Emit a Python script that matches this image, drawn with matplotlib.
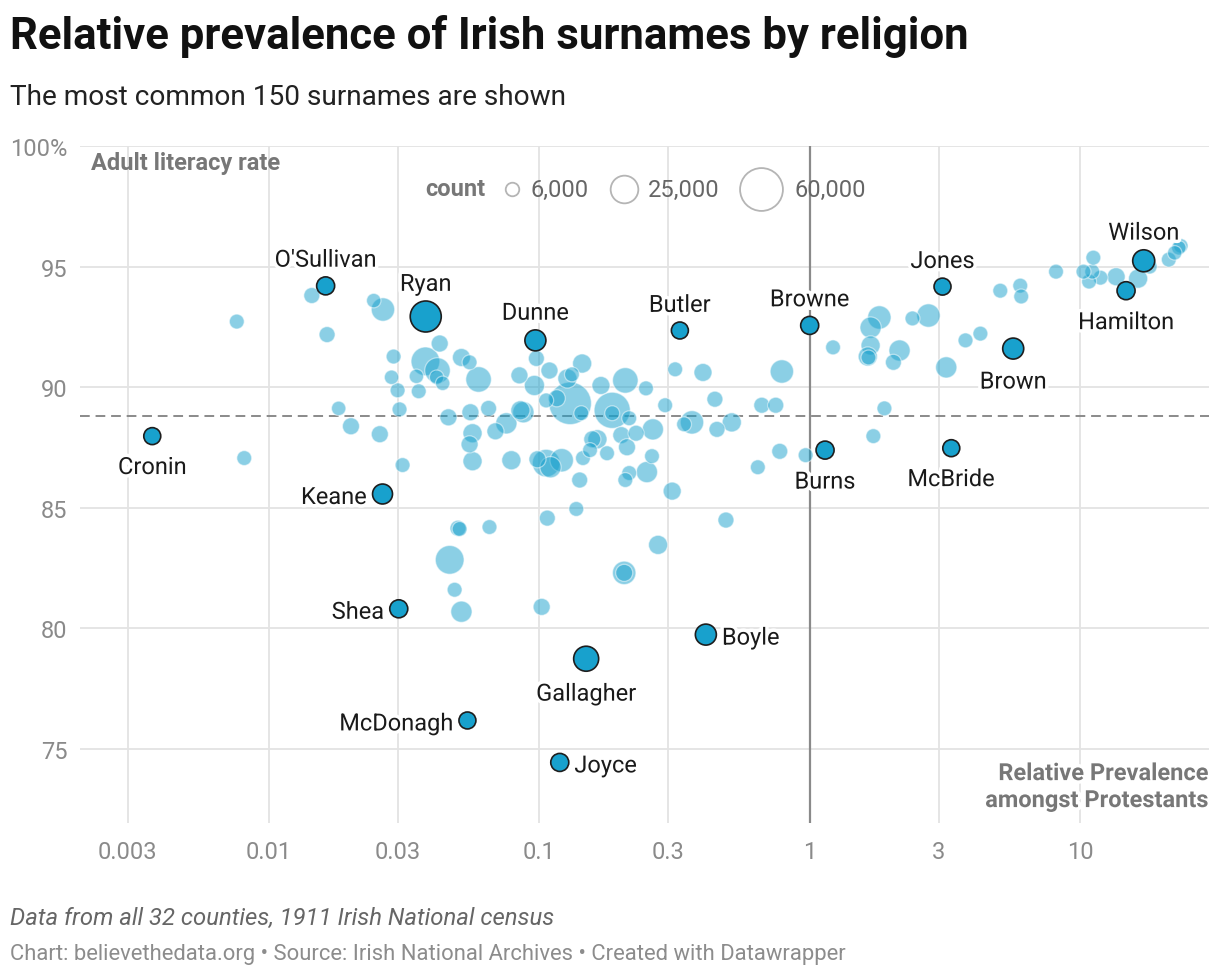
import matplotlib
matplotlib.use("Agg")
import matplotlib.pyplot as plt
import matplotlib.patheffects as pe
import numpy as np

plt.rcParams['font.family'] = ['Roboto', 'DejaVu Sans']

# highlighted surnames
hl_names = ["Cronin", "O'Sullivan", "Ryan", "Dunne", "Butler", "Browne", "Jones", "Wilson",
            "Hamilton", "Brown", "Burns", "McBride", "Keane", "Shea", "Boyle", "Gallagher",
            "McDonagh", "Joyce"]
hl_ratio = [0.0037, 0.0162, 0.038, 0.0967, 0.331, 1.0, 3.1, 17.2,
            14.8, 5.66, 1.14, 3.34, 0.0263, 0.0302, 0.413, 0.149,
            0.0542, 0.119]
hl_literacy = [87.97, 94.2, 92.93, 91.94, 92.35, 92.56, 94.17, 95.24,
               94.0, 91.6, 87.39, 87.47, 85.57, 80.81, 79.74, 78.74,
               76.18, 74.44]
hl_count = [9400, 10600, 31400, 14400, 9400, 10600, 9400, 15800,
            10600, 14400, 10600, 9400, 13000, 10600, 14400, 20400,
            9400, 10600]
hl_side = ["below", "above", "above", "above", "above", "above", "above", "above",
           "below", "below", "below", "below", "left", "left", "right", "below",
           "left", "right"]

# the other surnames
ratio = [0.0076, 0.0081, 0.0144, 0.0164, 0.0181, 0.0201, 0.0244, 0.0264, 0.0257, 0.0289,
         0.0284, 0.0299, 0.0304, 0.0312, 0.0351, 0.0358, 0.0428, 0.0379, 0.0420, 0.0417,
         0.0439, 0.0515, 0.0552, 0.0596, 0.0461, 0.0556, 0.0649, 0.0755, 0.0688, 0.0566,
         0.0552, 0.0566, 0.0788, 0.0844, 0.0959, 0.0975, 0.109, 0.0851, 0.0873, 0.106,
         0.116, 0.127, 0.132, 0.144, 0.130, 0.143, 0.169, 0.208, 0.248, 0.186,
         0.186, 0.215, 0.318, 0.403, 0.789, 0.292, 0.446, 0.665, 0.749, 0.367,
         0.343, 0.515, 0.454, 0.263, 0.157, 0.164, 0.154, 0.145, 0.178, 0.201,
         0.211, 0.228, 0.261, 0.215, 0.208, 0.250, 0.141, 0.310, 0.643, 0.775,
         0.966, 0.0984, 0.106, 0.110, 0.121, 0.137, 0.107, 0.0507, 0.0500, 0.0654,
         0.490, 0.275, 0.0466, 0.206, 0.206, 0.0486, 0.0515, 0.102,
         1.22, 1.81, 1.68, 1.68, 1.64, 1.65, 2.04, 2.15, 2.40, 2.75,
         3.20, 3.77, 4.28, 1.89, 1.72, 5.07, 6.01, 6.06, 8.15, 10.3,
         11.2, 11.1, 10.8, 11.9, 13.6, 16.4, 18.1, 21.3, 22.4, 23.2, 23.6]
literacy = [92.72, 87.06, 93.80, 92.18, 89.12, 88.38, 93.59, 93.22, 88.05, 91.27,
            90.41, 89.87, 89.08, 86.77, 90.45, 89.83, 91.81, 91.07, 90.69, 90.41,
            90.16, 91.23, 91.03, 90.32, 88.75, 88.96, 89.12, 88.50, 88.17, 88.09,
            87.63, 86.93, 86.97, 90.49, 90.07, 91.19, 90.69, 89.04, 88.96, 89.45,
            89.54, 90.36, 90.53, 90.98, 89.33, 88.92, 90.07, 90.28, 89.95, 89.04,
            88.92, 88.71, 90.74, 90.61, 90.65, 89.25, 89.50, 89.25, 89.25, 88.54,
            88.46, 88.54, 88.25, 88.25, 87.84, 87.84, 87.39, 87.06, 87.26, 88.01,
            87.51, 88.09, 87.14, 86.44, 86.15, 86.48, 86.15, 85.69, 86.68, 87.34,
            87.18, 87.01, 86.85, 86.68, 86.97, 84.95, 84.57, 84.12, 84.15, 84.20,
            84.49, 83.46, 82.84, 82.30, 82.30, 81.60, 80.69, 80.89,
            91.65, 92.89, 92.47, 91.73, 91.27, 91.23, 91.03, 91.52, 92.85, 92.97,
            90.82, 91.94, 92.22, 89.12, 87.97, 94.00, 94.21, 93.76, 94.79, 94.79,
            95.37, 94.79, 94.38, 94.54, 94.58, 94.50, 95.00, 95.29, 95.57, 95.78, 95.86]
count = [6400, 6400, 7400, 7400, 6000, 8400, 6000, 15800, 8400, 6400,
         6000, 6400, 6400, 6400, 6000, 6400, 8400, 23800, 18800, 6000,
         6000, 9400, 6400, 18800, 8400, 8400, 7400, 13000, 8400, 10600,
         8400, 10600, 10600, 8400, 11800, 7400, 8400, 10600, 13000, 6400,
         8400, 10600, 6400, 10600, 52000, 6400, 9400, 18800, 6400, 37700,
         6400, 6400, 6400, 9400, 15800, 6400, 7400, 7400, 7400, 15800,
         6400, 10600, 7400, 13000, 8400, 10600, 6400, 6400, 6400, 8400,
         8400, 7400, 6400, 6400, 6400, 13000, 7400, 9400, 6400, 7400,
         6400, 8400, 22000, 13000, 15800, 6400, 7400, 6400, 7400, 6400,
         7400, 10600, 23800, 15800, 8400, 6400, 13000, 8400,
         6400, 15800, 13000, 10600, 10600, 6400, 7400, 13000, 6400, 15800,
         13000, 6400, 6400, 6400, 6400, 6400, 6400, 6400, 6400, 6400,
         6400, 6400, 6400, 6400, 9400, 10600, 6400, 6400, 6000, 6000, 6000]

legend_counts = [6000, 25000, 60000]
x_ticks = [0.003, 0.01, 0.03, 0.1, 0.3, 1, 3, 10]
x_tick_labels = ["0.003", "0.01", "0.03", "0.1", "0.3", "1", "3", "10"]
y_ticks = [75, 80, 85, 90, 95, 100]
y_tick_labels = ["75", "80", "85", "90", "95", "100%"]
average_literacy = 88.8

BLUE = "#18a1cd"
GREY = "#8a8a8a"


def area(c, k=0.01588):
    return k * np.asarray(c, dtype=float)


fig = plt.figure(figsize=(12.2, 9.78), dpi=100)
ax = fig.add_axes([0.0656, 0.1575, 0.9254, 0.6922])
ax.set_xscale("log")
ax.set_xlim(0.002, 30)
ax.set_ylim(71.93, 100)

for s in ax.spines.values():
    s.set_visible(False)
ax.xaxis.set_major_locator(matplotlib.ticker.FixedLocator(x_ticks))
ax.xaxis.set_minor_locator(matplotlib.ticker.NullLocator())
ax.set_xticklabels(x_tick_labels)
ax.set_yticks(y_ticks)
ax.set_yticklabels(y_tick_labels)
ax.tick_params(length=0, labelsize=17, labelcolor=GREY)
ax.tick_params(axis="x", pad=12)
ax.tick_params(axis="y", pad=9)
ax.grid(True, color="#e3e3e3", lw=1.3, zorder=0)
ax.set_axisbelow(True)

ax.axvline(1, color="#8a8a8a", lw=1.6, zorder=1)
ax.axhline(average_literacy, color="#8a8a8a", lw=1.4, ls=(0, (5, 3)), zorder=1)

order = np.argsort(count)[::-1]
ax.scatter(np.array(ratio)[order], np.array(literacy)[order],
           s=area(np.array(count)[order], 0.0180),
           color=BLUE, alpha=0.5, edgecolors="white", linewidths=0.9, zorder=2)
ax.scatter(hl_ratio, hl_literacy, s=area(hl_count), color=BLUE,
           edgecolors="#1e1e1e", linewidths=1.2, zorder=3)

halo = [pe.withStroke(linewidth=5, foreground="white")]
for name, x, y, c, side in zip(hl_names, hl_ratio, hl_literacy, hl_count, hl_side):
    r = 0.126 * np.sqrt(c) / 2
    if side == "above":
        off, ha = (0, r + 12), "center"
    elif side == "below":
        off, ha = (0, -(r + 16.5)), "center"
    elif side == "left":
        off, ha = (-(r + 4), -2.5), "right"
    else:
        off, ha = (r + 4, -2.5), "left"
    ax.annotate(name, (x, y), xytext=off, textcoords="offset points", ha=ha, va="center",
                fontsize=17, color="#1a1a1a", path_effects=halo, zorder=4)

# axis titles
ax.text(0.0097, 0.975, "Adult literacy rate", transform=ax.transAxes, fontsize=17,
        fontweight="bold", color="#777777", va="center", ha="left", zorder=4)
ax.text(0.9995, 0.053, "Relative Prevalence\namongst Protestants", transform=ax.transAxes,
        fontsize=17, fontweight="bold", color="#777777", va="center", ha="right",
        linespacing=1.22, zorder=4, path_effects=halo)

# size legend
leg_y = 1 - 190 / 978
fig.text(485 / 1220, leg_y, "count", fontsize=17, fontweight="bold", color="#777777",
         ha="right", va="center")
leg_x = [512, 624, 761]
leg_tx = [530, 648, 794]
for cx, tx, c in zip(leg_x, leg_tx, legend_counts):
    fig.add_artist(matplotlib.lines.Line2D([cx / 1220], [leg_y], marker="o",
                                           markersize=0.126 * np.sqrt(c), markerfacecolor="none",
                                           markeredgecolor="#b5b5b5", markeredgewidth=1.3,
                                           transform=fig.transFigure))
    fig.text(tx / 1220, leg_y, f"{c:,}", fontsize=17, color="#666666", ha="left", va="center")

fig.text(10 / 1220, 1 - 37 / 978, "Relative prevalence of Irish surnames by religion",
         fontsize=31.5, fontweight="bold", color="#111111", ha="left", va="center")
fig.text(10 / 1220, 1 - 98 / 978, "The most common 150 surnames are shown",
         fontsize=20.2, color="#222222", ha="left", va="center")
fig.text(10 / 1220, 1 - 918 / 978, "Data from all 32 counties, 1911 Irish National census",
         fontsize=17.2, style="italic", color="#666666", ha="left", va="center")
fig.text(10 / 1220, 1 - 955 / 978,
         "Chart: believethedata.org \u2022 Source: Irish National Archives \u2022 Created with Datawrapper",
         fontsize=15.8, color="#8c8c8c", ha="left", va="center")

fig.savefig("out.png", dpi=100, facecolor="white")
